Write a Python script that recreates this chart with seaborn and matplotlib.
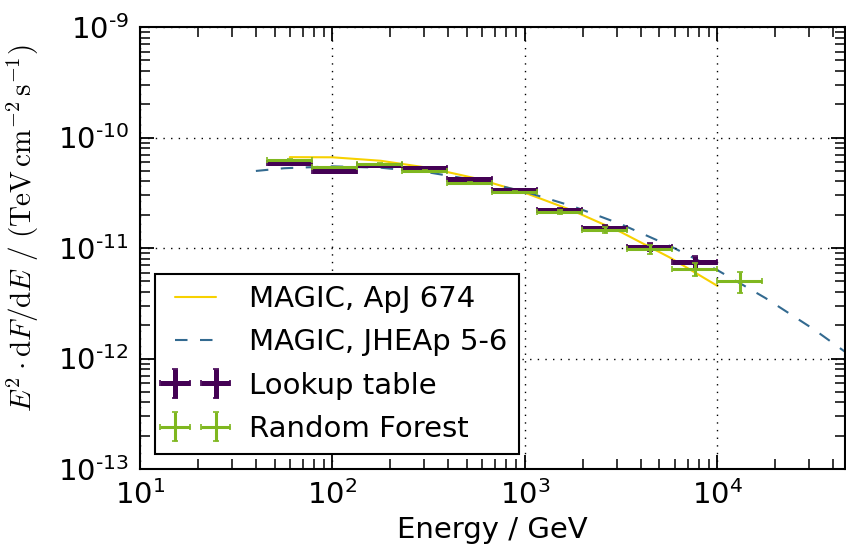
import matplotlib
matplotlib.use("Agg")
import matplotlib.pyplot as plt
from matplotlib.ticker import LogLocator, FuncFormatter, NullFormatter, LogFormatterMathtext
import numpy as np
import pandas as pd
import seaborn as sns

# Energies in GeV, fluxes as E^2 dF/dE in TeV cm^-2 s^-1
apj_energy = [60, 100, 178, 316, 562, 1000, 1778, 3162, 5623, 10000]
apj_flux = [6.64e-11, 6.62e-11, 6.16e-11, 5.31e-11, 4.25e-11, 3.16e-11,
            2.17e-11, 1.39e-11, 8.25e-12, 4.54e-12]

jheap_energy = [40, 56, 100, 178, 316, 562, 1000, 1778, 3162, 5623,
                10000, 17783, 31623, 56234]
jheap_flux = [4.98e-11, 5.27e-11, 5.48e-11, 5.33e-11, 4.83e-11, 4.09e-11,
              3.23e-11, 2.38e-11, 1.64e-11, 1.05e-11, 6.30e-12, 3.52e-12,
              1.84e-12, 8.95e-13]

bin_edges = [45.9, 78.7, 134.8, 230.9, 395.7, 677.6, 1161, 1989, 3407,
             5837, 10000, 17130]

lookup_flux = [5.91e-11, 5.01e-11, 5.60e-11, 5.26e-11, 4.19e-11, 3.35e-11,
               2.21e-11, 1.53e-11, 1.03e-11, 7.52e-12]
lookup_err = [0.9e-12, 0.9e-12, 0.9e-12, 0.9e-12, 0.9e-12, 0.9e-12,
              0.9e-12, 0.95e-12, 0.9e-12, 1.0e-12]

forest_flux = [6.25e-11, 5.37e-11, 5.75e-11, 4.98e-11, 3.90e-11, 3.21e-11,
               2.11e-11, 1.46e-11, 9.72e-12, 6.45e-12, 5.02e-12]
forest_err = [0.9e-12, 0.9e-12, 0.9e-12, 0.9e-12, 0.9e-12, 0.9e-12,
              0.9e-12, 0.93e-12, 0.9e-12, 0.85e-12, 1.1e-12]

labels = ["MAGIC, ApJ 674", "MAGIC, JHEAp 5-6", "Lookup table", "Random Forest"]
colors = ["#f7d100", "#336a90", "#440154", "#7fb71f"]

sns.set_style("ticks")
plt.rcParams["font.family"] = ["DejaVu Sans"]
plt.rcParams["mathtext.fontset"] = "dejavusans"
plt.rcParams["text.color"] = "black"
plt.rcParams["axes.labelcolor"] = "black"
FS = 21

fig = plt.figure(figsize=(8.46, 5.5), dpi=100)
ax = fig.add_axes([140 / 846, 1 - 469 / 550, (845 - 140) / 846, (469 - 27) / 550])
ax.set_xscale("log")
ax.set_yscale("log")

apj = pd.DataFrame({"energy": apj_energy, "flux": apj_flux})
jheap = pd.DataFrame({"energy": jheap_energy, "flux": jheap_flux})
sns.lineplot(data=apj, x="energy", y="flux", ax=ax, color=colors[0],
             lw=1.5, label=labels[0], legend=False)
sns.lineplot(data=jheap, x="energy", y="flux", ax=ax, color=colors[1],
             lw=1.5, ls=(0, (6, 6)), label=labels[1], legend=False)


def binned(edges, n):
    lo = np.array(edges[:n])
    hi = np.array(edges[1:n + 1])
    c = np.sqrt(lo * hi)
    return c, np.vstack([c - lo, hi - c])


c_lu, xe_lu = binned(bin_edges, len(lookup_flux))
ax.errorbar(c_lu, lookup_flux, xerr=xe_lu, yerr=lookup_err, fmt="none",
            ecolor=colors[2], elinewidth=3.6, capsize=2, capthick=1.2,
            label=labels[2], zorder=3)
c_rf, xe_rf = binned(bin_edges, len(forest_flux))
ax.errorbar(c_rf, forest_flux, xerr=xe_rf, yerr=forest_err, fmt="none",
            ecolor=colors[3], elinewidth=2.2, capsize=2, capthick=1.2,
            label=labels[3], zorder=4)

ax.set_xlim(10, 4.6e4)
ax.set_ylim(1e-13, 1e-9)

ax.xaxis.set_major_locator(LogLocator(base=10, numticks=10))
ax.xaxis.set_minor_locator(LogLocator(base=10, subs=np.arange(2, 10), numticks=20))
ax.yaxis.set_major_locator(LogLocator(base=10, numticks=10))
ax.yaxis.set_minor_locator(LogLocator(base=10, subs=np.arange(2, 10), numticks=20))
ax.xaxis.set_minor_formatter(NullFormatter())
ax.yaxis.set_minor_formatter(NullFormatter())
ax.xaxis.set_major_formatter(LogFormatterMathtext())


def ytick_fmt(v, pos):
    e = int(round(np.log10(v)))
    return r"$10^{\text{-}%d}$" % (-e)


ax.yaxis.set_major_formatter(FuncFormatter(ytick_fmt))

ax.tick_params(which="both", direction="in", top=True, right=True,
               labelsize=FS, colors="black")
ax.tick_params(which="major", length=10, width=1.3, pad=8)
ax.tick_params(which="minor", length=7, width=1.1)
for s in ax.spines.values():
    s.set_linewidth(1.5)
    s.set_color("black")

ax.grid(True, which="major", color="black", ls=(0, (1, 4.5)), lw=1.0)
ax.set_axisbelow(False)

ax.set_xlabel("Energy / GeV", fontsize=FS, labelpad=4, color="black")
ax.set_ylabel(r"$E^2 \cdot \mathrm{d}F/\mathrm{d}E\ /\ (\mathrm{TeV}\,\mathrm{cm}^{-2}\,\mathrm{s}^{-1})$",
              fontsize=FS, math_fontfamily="cm", color="black")
ax.yaxis.set_label_coords(-0.14, 0.545)

handles, labs = ax.get_legend_handles_labels()
order = [labs.index(l) for l in labels]
leg = ax.legend([handles[i] for i in order], [labs[i] for i in order],
                loc="lower left", fontsize=FS, numpoints=2, handlelength=2.0,
                handletextpad=0.85, labelspacing=0.52, borderpad=0.4,
                fancybox=False, frameon=True, framealpha=1.0,
                labelcolor="black")
leg.get_frame().set_edgecolor("black")
leg.get_frame().set_linewidth(1.5)

fig.savefig("out.png", dpi=100)
